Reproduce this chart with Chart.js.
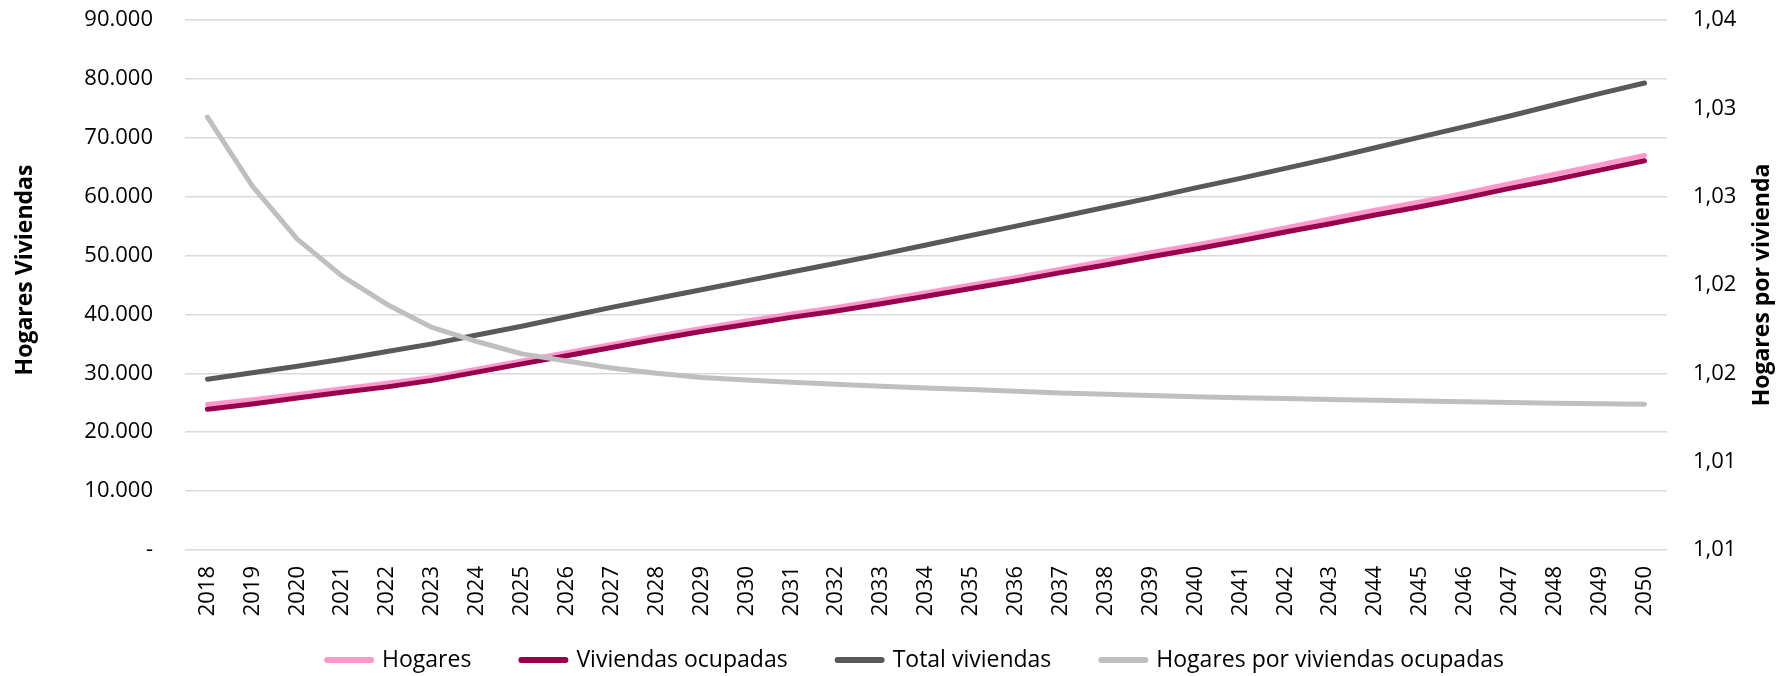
<!DOCTYPE html>
<html>
<head>
<meta charset="utf-8">
<script src="https://cdn.jsdelivr.net/npm/chart.js@4.4.1/dist/chart.umd.min.js"></script>
<style>
  html, body { margin: 0; padding: 0; background: #fff; }
  #wrap { width: 1777px; height: 676px; position: relative; }
</style>
</head>
<body>
<div id="wrap"><canvas id="chart"></canvas></div>
<script>
// Data
const years = ['2018', '2019', '2020', '2021', '2022', '2023', '2024', '2025', '2026', '2027', '2028',
  '2029', '2030', '2031', '2032', '2033', '2034', '2035', '2036', '2037', '2038', '2039', '2040',
  '2041', '2042', '2043', '2044', '2045', '2046', '2047', '2048', '2049', '2050'];

const hogares = [24700, 25500, 26400, 27400, 28300, 29300, 30700, 32100, 33500, 34900, 36300,
  37600, 38900, 40100, 41200, 42400, 43700, 45000, 46300, 47700, 49100, 50500, 51800,
  53200, 54700, 56200, 57700, 59100, 60600, 62200, 63800, 65400, 67000];

const viviendasOcupadas = [23900, 24800, 25800, 26800, 27700, 28800, 30200, 31600, 33000, 34400, 35800,
  37100, 38300, 39500, 40600, 41800, 43100, 44400, 45700, 47100, 48400, 49800, 51100,
  52500, 54000, 55400, 56900, 58300, 59800, 61400, 62900, 64500, 66100];

const totalViviendas = [29000, 30100, 31200, 32400, 33700, 35000, 36500, 38000, 39600, 41200, 42700,
  44200, 45700, 47200, 48700, 50200, 51800, 53400, 55000, 56600, 58200, 59800, 61500,
  63100, 64800, 66500, 68300, 70100, 71900, 73700, 75600, 77500, 79300];

const hogaresPorVivienda = [1.0295, 1.0256, 1.0226, 1.0205, 1.0189, 1.0176, 1.0168, 1.0161, 1.0157, 1.0153, 1.0150,
  1.01477, 1.01462, 1.0145, 1.01438, 1.01427, 1.01417, 1.01408, 1.01398, 1.01389, 1.01381, 1.01374, 1.01368,
  1.01362, 1.01357, 1.01352, 1.01347, 1.01343, 1.01339, 1.01335, 1.01331, 1.01328, 1.01325];

const leftTickLabels = ['-', '10.000', '20.000', '30.000', '40.000', '50.000', '60.000', '70.000', '80.000', '90.000'];
const rightTickLabels = ['1,01', '1,01', '1,02', '1,02', '1,03', '1,03', '1,04'];

const FONT = '"Open Sans", "Noto Sans", sans-serif';

// Rotated axis titles, both reading bottom to top
const axisTitles = {
  id: 'axisTitles',
  afterDraw(chart) {
    const ctx = chart.ctx;
    ctx.save();
    ctx.font = 'bold 23px ' + FONT;
    ctx.fillStyle = '#000';
    ctx.textAlign = 'center';
    ctx.textBaseline = 'middle';
    [[25, 270, 'Hogares Viviendas'], [1762, 285, 'Hogares por vivienda']].forEach(([x, y, text]) => {
      ctx.save();
      ctx.translate(x, y);
      ctx.rotate(-Math.PI / 2);
      ctx.fillText(text, 0, 0);
      ctx.restore();
    });
    ctx.restore();
  },
};

// Single-row legend under the axis (Excel style spacing)
const legendRow = {
  id: 'legendRow',
  afterDraw(chart) {
    const ctx = chart.ctx;
    const lineLen = 50, textGap = 8, itemGap = 47, y = 660;
    ctx.save();
    ctx.font = '23px ' + FONT;
    ctx.textBaseline = 'middle';
    ctx.textAlign = 'left';
    const items = chart.data.datasets.map(ds => ({
      text: ds.label, color: ds.borderColor, w: ctx.measureText(ds.label).width,
    }));
    const total = items.reduce((s, it) => s + lineLen + textGap + it.w, 0) + itemGap * (items.length - 1);
    let x = 914 - total / 2;
    items.forEach(it => {
      ctx.strokeStyle = it.color;
      ctx.lineWidth = 6;
      ctx.lineCap = 'round';
      ctx.beginPath();
      ctx.moveTo(x + 3, y);
      ctx.lineTo(x + lineLen - 3, y);
      ctx.stroke();
      ctx.fillStyle = '#000';
      ctx.fillText(it.text, x + lineLen + textGap, y);
      x += lineLen + textGap + it.w + itemGap;
    });
    ctx.restore();
  },
};

const lineDefaults = {
  borderWidth: 5,
  tension: 0,
  pointRadius: 0,
  pointHoverRadius: 0,
  borderCapStyle: 'round',
  borderJoinStyle: 'round',
  fill: false,
};

const ctx = document.getElementById('chart');
new Chart(ctx, {
  type: 'line',
  data: {
    labels: years,
    datasets: [
      { ...lineDefaults, label: 'Hogares', data: hogares, borderColor: '#ff99cc', yAxisID: 'y', order: 4 },
      { ...lineDefaults, label: 'Viviendas ocupadas', data: viviendasOcupadas, borderColor: '#99004d', yAxisID: 'y', order: 3 },
      { ...lineDefaults, label: 'Total viviendas', data: totalViviendas, borderColor: '#595959', yAxisID: 'y', order: 2 },
      { ...lineDefaults, label: 'Hogares por viviendas ocupadas', data: hogaresPorVivienda, borderColor: '#bfbfbf', yAxisID: 'y1', order: 1 },
    ],
  },
  options: {
    responsive: true,
    maintainAspectRatio: false,
    animation: false,
    devicePixelRatio: 1,
    layout: {
      padding: { top: 20, left: 52, right: 0, bottom: 50 },
    },
    scales: {
      x: {
        offset: true,
        border: { display: false },
        grid: { display: false, drawTicks: false },
        ticks: {
          minRotation: 90,
          maxRotation: 90,
          autoSkip: false,
          padding: 16,
          color: '#000',
          font: { family: FONT, size: 22 },
        },
        afterFit: (scale) => {
          scale.height = 76;
          scale.paddingLeft = 0;
          scale.paddingRight = 0;
          scale.paddingTop = 0;
          scale.paddingBottom = 0;
        },
      },
      y: {
        position: 'left',
        min: 0,
        max: 90000,
        ticks: {
          stepSize: 10000,
          padding: 32,
          color: '#000',
          font: { family: FONT, size: 22 },
          callback: (value, index) => leftTickLabels[index],
        },
        border: { display: false },
        grid: { color: '#d9d9d9', lineWidth: 1.5, drawTicks: false },
        afterFit: (scale) => {
          scale.width = 133;
          scale.paddingTop = 0;
          scale.paddingBottom = 0;
        },
      },
      y1: {
        position: 'right',
        min: 1.005,
        max: 1.035,
        ticks: {
          count: 7,
          padding: 26,
          color: '#000',
          font: { family: FONT, size: 22 },
          callback: (value, index) => rightTickLabels[index],
        },
        border: { display: false },
        grid: { display: false, drawTicks: false },
        afterFit: (scale) => {
          scale.width = 110;
          scale.paddingTop = 0;
          scale.paddingBottom = 0;
        },
      },
    },
    plugins: {
      legend: { display: false },
      tooltip: { enabled: false },
    },
  },
  plugins: [axisTitles, legendRow],
});
</script>
</body>
</html>
